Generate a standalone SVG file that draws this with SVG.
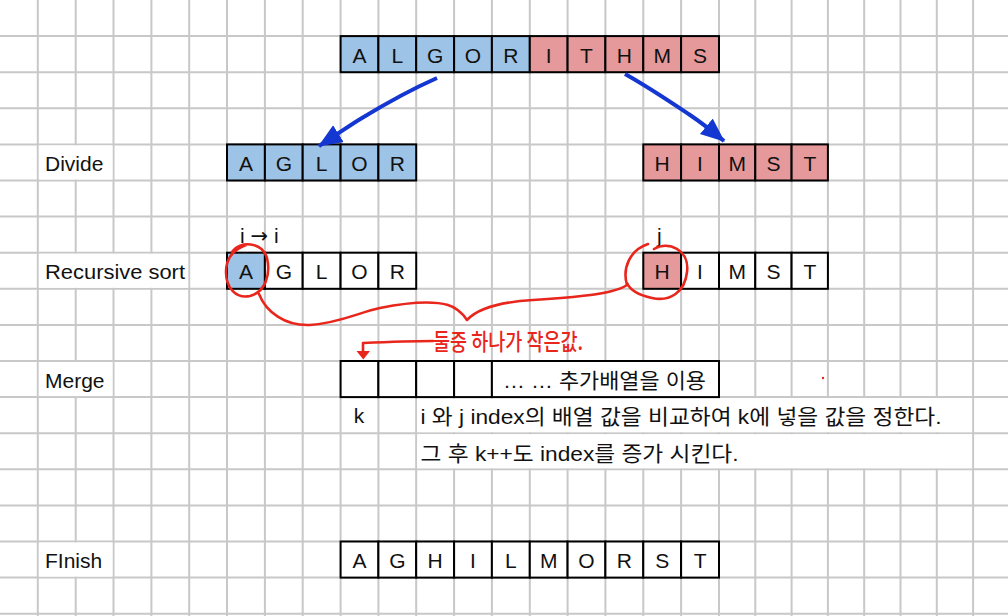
<svg xmlns="http://www.w3.org/2000/svg" width="1008" height="616" viewBox="0 0 1008 616">
<defs>
<style>
.grid{stroke:#c8c8c8;stroke-width:2;fill:none}
.cell{stroke:#000;stroke-width:2}
.b{fill:#9dc3e6}.r{fill:#e6999a}.w{fill:#fff}
.t{font-family:"Liberation Sans",Arial,sans-serif;font-size:21px;fill:#111;text-anchor:middle}
.lbl{font-family:"Liberation Sans",Arial,sans-serif;font-size:21px;fill:#111}
.arr{font-family:"DejaVu Sans",sans-serif;font-size:21px}
.kr{font-family:"Liberation Sans","Noto Sans CJK KR",sans-serif;font-size:21px;fill:#111}
.blue{stroke:#1437d2;stroke-width:4;fill:none;stroke-linecap:butt}
.ink{stroke:#e8261c;stroke-width:2.6;fill:none;stroke-linecap:round;stroke-linejoin:round}
.hand{font-family:"Noto Sans CJK KR",sans-serif;font-size:23px;font-weight:500;fill:#e8261c}
</style>
<marker id="bh" markerUnits="userSpaceOnUse" markerWidth="26" markerHeight="22" refX="23" refY="10" orient="auto">
<path d="M0,0 L24,10 L0,20 z" fill="#1437d2"/>
</marker>
</defs>
<rect width="1008" height="616" fill="#fff"/>
<g id="grid">
<path class="grid" d="M37.8,0V616M75.7,0V616M113.5,0V616M151.4,0V616M189.2,0V616M227,0V616M264.9,0V616M302.7,0V616M340.6,0V616M378.4,0V616M416.2,0V616M454.1,0V616M491.9,0V616M529.8,0V616M567.6,0V616M605.4,0V616M643.3,0V616M681.1,0V616M719,0V616M755.3,0V616M791.6,0V616M827.9,0V616M864.2,0V616M900.5,0V616M936.8,0V616M973.1,0V616"/>
<path class="grid" d="M0,36.1H1008M0,72.2H1008M0,108.3H1008M0,144.4H1008M0,180.5H1008M0,216.6H1008M0,252.7H1008M0,288.8H1008M0,324.9H1008M0,361H1008M0,397.1H1008M0,433.2H1008M0,469.3H1008M0,505.4H1008M0,541.5H1008M0,577.6H1008M0,613.7H1008"/>
<rect x="38.8" y="145.4" width="73.7" height="34.1" fill="#fff"/>
<rect x="38.8" y="253.7" width="149.4" height="34.1" fill="#fff"/>
<rect x="38.8" y="362" width="73.7" height="34.1" fill="#fff"/>
<rect x="38.8" y="542.5" width="73.7" height="34.1" fill="#fff"/>
<rect x="417.2" y="398.1" width="554.9" height="34.1" fill="#fff"/>
<rect x="417.2" y="434.2" width="554.9" height="34.1" fill="#fff"/>
</g>

<g id="labels">
<text class="lbl" x="45" y="171">Divide</text>
<text class="lbl" x="45" y="279.3" textLength="140" lengthAdjust="spacingAndGlyphs">Recursive sort</text>
<text class="lbl" x="45" y="387.5">Merge</text>
<text class="lbl" x="45" y="568">FInish</text>
</g>

<g id="source">
<rect class="cell b" x="340.6" y="36.1" width="37.8" height="36.1"/>
<rect class="cell b" x="378.4" y="36.1" width="37.8" height="36.1"/>
<rect class="cell b" x="416.2" y="36.1" width="37.9" height="36.1"/>
<rect class="cell b" x="454.1" y="36.1" width="37.8" height="36.1"/>
<rect class="cell b" x="491.9" y="36.1" width="37.9" height="36.1"/>
<rect class="cell r" x="529.8" y="36.1" width="37.8" height="36.1"/>
<rect class="cell r" x="567.6" y="36.1" width="37.8" height="36.1"/>
<rect class="cell r" x="605.4" y="36.1" width="37.9" height="36.1"/>
<rect class="cell r" x="643.3" y="36.1" width="37.8" height="36.1"/>
<rect class="cell r" x="681.1" y="36.1" width="37.9" height="36.1"/>
<text class="t" x="359.5" y="62.7">A</text>
<text class="t" x="397.3" y="62.7">L</text>
<text class="t" x="435.2" y="62.7">G</text>
<text class="t" x="473" y="62.7">O</text>
<text class="t" x="510.8" y="62.7">R</text>
<text class="t" x="548.7" y="62.7">I</text>
<text class="t" x="586.5" y="62.7">T</text>
<text class="t" x="624.4" y="62.7">H</text>
<text class="t" x="662.2" y="62.7">M</text>
<text class="t" x="700.1" y="62.7">S</text>
</g>

<g id="divide-left">
<rect class="cell b" x="227" y="144.4" width="37.9" height="36.1"/>
<rect class="cell b" x="264.9" y="144.4" width="37.8" height="36.1"/>
<rect class="cell b" x="302.7" y="144.4" width="37.9" height="36.1"/>
<rect class="cell b" x="340.6" y="144.4" width="37.8" height="36.1"/>
<rect class="cell b" x="378.4" y="144.4" width="37.8" height="36.1"/>
<text class="t" x="245.9" y="171">A</text>
<text class="t" x="283.8" y="171">G</text>
<text class="t" x="321.6" y="171">L</text>
<text class="t" x="359.5" y="171">O</text>
<text class="t" x="397.3" y="171">R</text>
</g>

<g id="divide-right">
<rect class="cell r" x="643.3" y="144.4" width="37.8" height="36.1"/>
<rect class="cell r" x="681.1" y="144.4" width="37.9" height="36.1"/>
<rect class="cell r" x="719" y="144.4" width="36.3" height="36.1"/>
<rect class="cell r" x="755.3" y="144.4" width="36.3" height="36.1"/>
<rect class="cell r" x="791.6" y="144.4" width="36.3" height="36.1"/>
<text class="t" x="662.2" y="171">H</text>
<text class="t" x="700" y="171">I</text>
<text class="t" x="737.2" y="171">M</text>
<text class="t" x="773.5" y="171">S</text>
<text class="t" x="809.8" y="171">T</text>
</g>

<g id="sort-left">
<rect class="cell b" x="227" y="252.7" width="37.9" height="36.1"/>
<rect class="cell w" x="264.9" y="252.7" width="37.8" height="36.1"/>
<rect class="cell w" x="302.7" y="252.7" width="37.9" height="36.1"/>
<rect class="cell w" x="340.6" y="252.7" width="37.8" height="36.1"/>
<rect class="cell w" x="378.4" y="252.7" width="37.8" height="36.1"/>
<text class="t" x="245.9" y="279.3">A</text>
<text class="t" x="283.8" y="279.3">G</text>
<text class="t" x="321.6" y="279.3">L</text>
<text class="t" x="359.5" y="279.3">O</text>
<text class="t" x="397.3" y="279.3">R</text>
<text class="lbl" x="240" y="243">i <tspan class="arr">→</tspan> i</text>
</g>

<g id="sort-right">
<rect class="cell r" x="643.3" y="252.7" width="37.8" height="36.1"/>
<rect class="cell w" x="681.1" y="252.7" width="37.9" height="36.1"/>
<rect class="cell w" x="719" y="252.7" width="36.3" height="36.1"/>
<rect class="cell w" x="755.3" y="252.7" width="36.3" height="36.1"/>
<rect class="cell w" x="791.6" y="252.7" width="36.3" height="36.1"/>
<text class="t" x="662.2" y="279.3">H</text>
<text class="t" x="700" y="279.3">I</text>
<text class="t" x="737.2" y="279.3">M</text>
<text class="t" x="773.5" y="279.3">S</text>
<text class="t" x="809.8" y="279.3">T</text>
<text class="lbl" x="657" y="243">j</text>
</g>

<g id="merge">
<rect class="cell w" x="340.6" y="361" width="37.8" height="36.1"/>
<rect class="cell w" x="378.4" y="361" width="37.8" height="36.1"/>
<rect class="cell w" x="416.2" y="361" width="37.9" height="36.1"/>
<rect class="cell w" x="454.1" y="361" width="37.8" height="36.1"/>
<rect class="cell w" x="491.9" y="361" width="227.1" height="36.1"/>
<text class="kr" x="503" y="388" textLength="203" lengthAdjust="spacingAndGlyphs">… … 추가배열을 이용</text>
<text class="t" x="359" y="423">k</text>
<text class="kr" x="420.5" y="424" textLength="521" lengthAdjust="spacingAndGlyphs">i 와 j index의 배열 값을 비교하여 k에 넣을 값을 정한다.</text>
<text class="kr" x="420.5" y="461" textLength="318" lengthAdjust="spacingAndGlyphs">그 후 k++도 index를 증가 시킨다.</text>
</g>

<g id="finish">
<rect class="cell w" x="340.6" y="541.5" width="37.8" height="36.1"/>
<rect class="cell w" x="378.4" y="541.5" width="37.8" height="36.1"/>
<rect class="cell w" x="416.2" y="541.5" width="37.9" height="36.1"/>
<rect class="cell w" x="454.1" y="541.5" width="37.8" height="36.1"/>
<rect class="cell w" x="491.9" y="541.5" width="37.9" height="36.1"/>
<rect class="cell w" x="529.8" y="541.5" width="37.8" height="36.1"/>
<rect class="cell w" x="567.6" y="541.5" width="37.8" height="36.1"/>
<rect class="cell w" x="605.4" y="541.5" width="37.9" height="36.1"/>
<rect class="cell w" x="643.3" y="541.5" width="37.8" height="36.1"/>
<rect class="cell w" x="681.1" y="541.5" width="37.9" height="36.1"/>
<text class="t" x="359.5" y="568">A</text>
<text class="t" x="397.3" y="568">G</text>
<text class="t" x="435.2" y="568">H</text>
<text class="t" x="473" y="568">I</text>
<text class="t" x="510.8" y="568">L</text>
<text class="t" x="548.7" y="568">M</text>
<text class="t" x="586.5" y="568">O</text>
<text class="t" x="624.4" y="568">R</text>
<text class="t" x="662.2" y="568">S</text>
<text class="t" x="700.1" y="568">T</text>
</g>

<g id="connectors">
<path class="blue" d="M437,78 C410,90 385,104 362,118 C350,125 338,134 319,146" marker-end="url(#bh)"/>
<path class="blue" d="M625,74 C650,88 672,103 690,115 C702,123 712,131 724,141" marker-end="url(#bh)"/>
</g>

<g id="annotations">
<path class="ink" d="M232,252 C240,240 262,242 267,258 C271,275 265,292 250,296 C236,299 226,288 226,272 C226,260 232,250 246,245"/>
<path class="ink" d="M259,294 C266,312 285,326 310,325 C340,323 360,312 380,308 C405,303 430,300 448,305 C458,308 463,314 467,320 C478,308 500,302 533,300 C565,298 595,296 612,291 C620,289 624,287 627,285"/>
<path class="ink" d="M627,285 C622,268 630,250 648,244 M654,249 C668,240 690,250 687,272 C685,292 670,302 652,298 C638,295 630,290 627,283"/>
<path class="ink" d="M433,341 C410,341 385,342 363,343 L363,352"/>
<path d="M356.5,351 L370,351 L363.3,359.5 z" fill="#e8261c"/>
<text class="hand" x="433" y="350" textLength="150" lengthAdjust="spacingAndGlyphs">둘중 하나가 작은값.</text>
<circle cx="823" cy="378" r="1.2" fill="#e8261c"/>
</g>
</svg>
